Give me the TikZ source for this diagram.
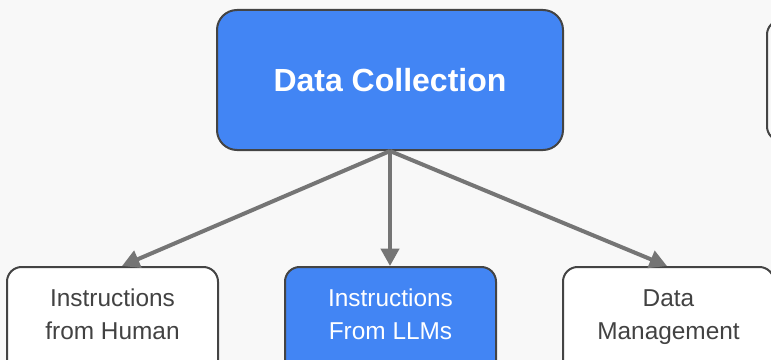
\documentclass[tikz,border=0pt]{standalone}
\usepackage{fontspec}
\setmainfont{Liberation Sans}
\usetikzlibrary{arrows.meta,calc}
\definecolor{bgcol}{HTML}{F8F8F8}
\definecolor{gblue}{HTML}{4285F4}
\definecolor{edgecol}{HTML}{444444}
\definecolor{arrowcol}{HTML}{757575}
\definecolor{txtcol}{HTML}{424242}
\tikzset{
  box/.style={draw=edgecol, line width=1.5pt, rounded corners=11pt, inner sep=0pt},
  bigbox/.style={box, fill=gblue, rounded corners=15pt,
    minimum width=259.5pt, minimum height=105pt,
    text=white, font=\bfseries\fontsize{24}{28}\selectfont},
  subbox/.style={box, minimum width=158.25pt, minimum height=112.5pt},
  lbl/.style={align=center, font=\fontsize{18.3}{24.75}\selectfont, inner sep=0pt},
  flow/.style={draw=arrowcol, line width=3pt,
    -{Triangle[length=13pt,width=13.5pt]}}
}
\begin{document}
\begin{tikzpicture}[x=0.75pt,y=-0.75pt]
  \useasboundingbox (0,0) rectangle (771,360);
  \clip (0,0) rectangle (771,360);
  \fill[bgcol] (0,0) rectangle (771,360);

  % main stage
  \node[bigbox] (collect) at (390,80) {Data Collection};

  % neighbouring stage, cut off at the right edge
  \node[box, fill=bgcol, minimum width=240pt, minimum height=90.75pt]
    (next) at (927,80.5) {};

  % sub-steps
  \node[subbox, fill=white] (human) at (112.5,342) {};
  \node[subbox, fill=gblue] (llm) at (390.5,342) {};
  \node[subbox, fill=white] (manage) at (668.5,342) {};

  \node[lbl, text=txtcol] (humanlbl) at (112.5,316.5) {Instructions\strut\\from Human\strut};
  \node[lbl, text=white] (llmlbl) at (390.5,316.5) {Instructions\strut\\From LLMs\strut};
  \node[lbl, text=txtcol] (managelbl) at (668.5,316.5) {Data\strut\\Management\strut};

  % arrow targets on the top edges
  \coordinate (humanin) at ($(human.north)+(9.5,0)$);
  \coordinate (llmin) at ($(llm.north)+(-0.5,0)$);
  \coordinate (managein) at ($(manage.north)+(-1.5,0)$);

  \draw[flow] (collect.south) -- (humanin);
  \draw[flow] (collect.south) -- (llmin);
  \draw[flow] (collect.south) -- (managein);
\end{tikzpicture}
\end{document}
